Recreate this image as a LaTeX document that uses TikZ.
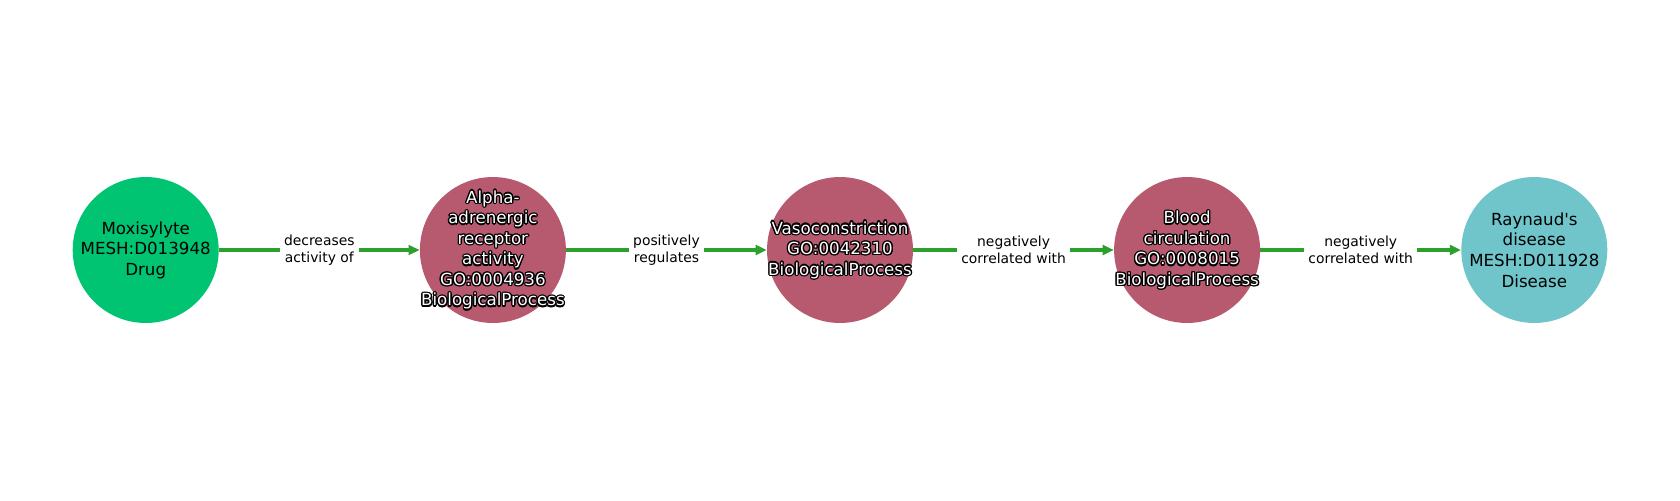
\documentclass[tikz,border=0pt]{standalone}
\usepackage{fontspec}
\setmainfont{DejaVu Sans}[Ligatures=TeXOff]
\usetikzlibrary{arrows.meta}
\definecolor{drugc}{RGB}{0,196,114}
\definecolor{procc}{RGB}{184,90,111}
\definecolor{disc}{RGB}{112,197,203}
\definecolor{edgec}{RGB}{44,160,44}
\newcommand\outlinedtext[2]{%
  \foreach \ang in {0,30,...,330}
    \node[ntext, text=black] at ([shift={(\ang:0.95pt)}]#1) {#2};
  \node[ntext, text=white] at (#1) {#2};}
\begin{document}
\begin{tikzpicture}[x=0.72pt,y=0.72pt,
  ent/.style={circle, draw=none, inner sep=0pt, minimum size=105.1pt},
  ntext/.style={align=center, font=\fontsize{12pt}{14.8pt}\selectfont, inner sep=0pt},
  elabel/.style={align=center, font=\fontsize{10pt}{11.8pt}\selectfont, fill=white, inner sep=3pt},
  rel/.style={draw=edgec, line width=2.2pt, -{Triangle[length=8pt,width=7pt]}}]
\useasboundingbox (0,0) rectangle (1680,500);
\node[ent, fill=drugc] (n1) at (145.7,250) {};
\node[ent, fill=procc] (n2) at (492.9,250) {};
\node[ent, fill=procc] (n3) at (840,250) {};
\node[ent, fill=procc] (n4) at (1187.1,250) {};
\node[ent, fill=disc] (n5) at (1534.3,250) {};
\node[ntext] (t1) at (n1.center) {Moxisylyte\\MESH:D013948\\Drug};
\outlinedtext{n2.center}{Alpha-\\adrenergic\\receptor\\activity\\GO:0004936\\BiologicalProcess}
\outlinedtext{n3.center}{Vasoconstriction\\GO:0042310\\BiologicalProcess}
\outlinedtext{n4.center}{Blood\\circulation\\GO:0008015\\BiologicalProcess}
\node[ntext] (t5) at (n5.center) {Raynaud's\\disease\\MESH:D011928\\Disease};
\draw[rel] (n1) -- node[elabel] {decreases\\activity of} (n2);
\draw[rel] (n2) -- node[elabel] {positively\\regulates} (n3);
\draw[rel] (n3) -- node[elabel] {negatively\\correlated with} (n4);
\draw[rel] (n4) -- node[elabel] {negatively\\correlated with} (n5);
\end{tikzpicture}
\end{document}
